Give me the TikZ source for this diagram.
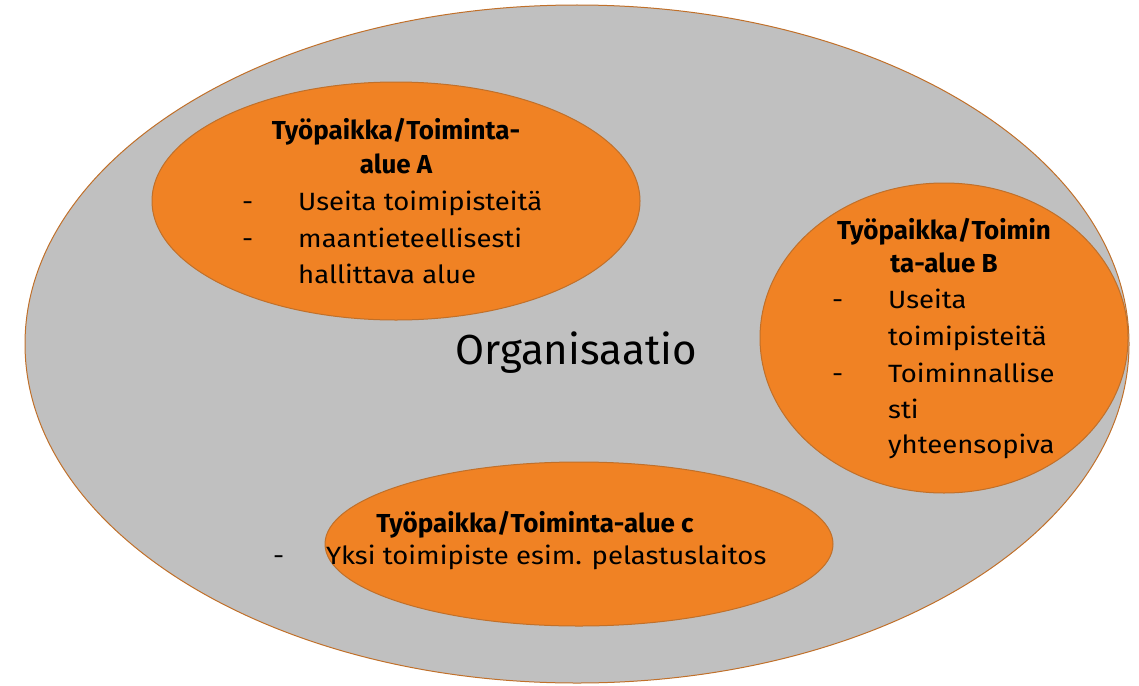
\documentclass[tikz,border=0pt]{standalone}
\usepackage{fontspec}
\setmainfont{Fira Sans}
\newfontfamily\bodyfam[FakeStretch=1.1]{Fira Sans}
\newfontfamily\headfam{Fira Sans}
\newfontfamily\orgfam{Fira Sans}
\usetikzlibrary{shapes.geometric}
\definecolor{orgfill}{HTML}{C0C0C0}
\definecolor{unitfill}{HTML}{F08224}
\definecolor{edge}{HTML}{C0702A}
\tikzset{
  blob/.style={ellipse, draw=edge, line width=1pt, inner sep=0pt},
  orgblob/.style={blob, fill=orgfill},
  unitblob/.style={blob, fill=unitfill},
  body/.style={anchor=base west, inner sep=0pt, font=\bodyfam\fontsize{25}{30}\selectfont},
  head/.style={anchor=base, inner sep=0pt, font=\headfam\bfseries\fontsize{26}{30}\selectfont},
  bulletmark/.style={anchor=base west, inner sep=0pt, font=\bodyfam\fontsize{25}{30}\selectfont}
}
\begin{document}
\begin{tikzpicture}[x=1pt,y=-1pt]
\useasboundingbox (0,0) rectangle (1139,685);
\node[orgblob, minimum width=1104pt, minimum height=678pt] (org) at (577,344) {};
\node[unitblob, minimum width=488pt, minimum height=238pt] (ua) at (396,201) {};
\node[unitblob, minimum width=368pt, minimum height=310pt] (ub) at (944,338) {};
\node[unitblob, minimum width=508pt, minimum height=164pt] (uc) at (579,544) {};
\node[anchor=base, inner sep=0pt, font=\orgfam\fontsize{42}{48}\selectfont] (orgt) at (576,364) {Organisaatio};
% A
\node[head] (ah1) at (396,139) {Työpaikka/Toiminta-};
\node[head] (ah2) at (396,173) {alue A};
\node[bulletmark] (ad1) at (242,210) {-};
\node[body] (at1) at (298,210) {Useita toimipisteitä};
\node[bulletmark] (ad2) at (242,247) {-};
\node[body] (at2) at (298,247) {maantieteellisesti};
\node[body] (at3) at (298,283) {hallittava alue};
% B
\node[head] (bh1) at (944,239) {Työpaikka/Toimin};
\node[head] (bh2) at (944,272) {ta-alue B};
\node[bulletmark] (bd1) at (832,308) {-};
\node[body] (bt1) at (888,308) {Useita};
\node[body] (bt2) at (888,345) {toimipisteitä};
\node[bulletmark] (bd2) at (832,382) {-};
\node[body] (bt3) at (888,382) {Toiminnallise};
\node[body] (bt4) at (888,418) {sti};
\node[body] (bt5) at (888,453) {yhteensopiva};
% C
\node[head] (ch1) at (535,532) {Työpaikka/Toiminta-alue c};
\node[bulletmark] (cd1) at (273,564) {-};
\node[body] (ct1) at (326,564) {Yksi toimipiste esim. pelastuslaitos};
\end{tikzpicture}
\end{document}
